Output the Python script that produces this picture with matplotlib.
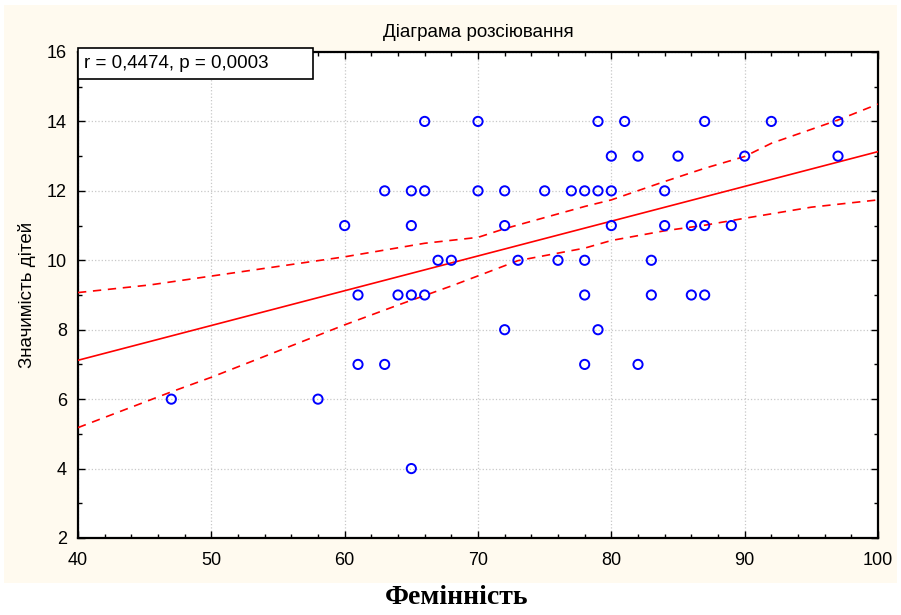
import matplotlib.pyplot as plt
from matplotlib.patches import Rectangle
from matplotlib.ticker import MultipleLocator
import numpy as np

# points (femininity score, significance of children)
fem = [65,
       47, 58,
       61, 63, 78, 82,
       72, 79,
       61, 64, 65, 66, 78, 83, 86, 87,
       67, 68, 73, 76, 78, 83,
       60, 65, 72, 80, 84, 86, 87, 89,
       63, 65, 66, 70, 72, 75, 77, 78, 79, 80, 84,
       80, 82, 85, 90, 97,
       66, 70, 79, 81, 87, 92, 97]
kids = [4,
        6, 6,
        7, 7, 7, 7,
        8, 8,
        9, 9, 9, 9, 9, 9, 9, 9,
        10, 10, 10, 10, 10, 10,
        11, 11, 11, 11, 11, 11, 11, 11,
        12, 12, 12, 12, 12, 12, 12, 12, 12, 12, 12,
        13, 13, 13, 13, 13,
        14, 14, 14, 14, 14, 14, 14]

# regression line and 95% band
fit_x = [40, 100]
fit_y = [7.12, 13.13]
up_x = [40, 45.4, 60, 66, 70, 72, 78, 80, 84, 87, 90, 92, 97, 100]
up_y = [9.07, 9.29, 10.10, 10.49, 10.66, 10.91, 11.55, 11.74, 12.27, 12.65, 12.99, 13.37, 14.04, 14.5]
lo_x = [40, 47, 50, 60, 64, 68, 70, 73, 78, 80, 84, 87, 90, 95, 100]
lo_y = [5.18, 6.21, 6.63, 8.14, 8.71, 9.26, 9.55, 9.99, 10.35, 10.57, 10.85, 11.01, 11.21, 11.53, 11.74]

stats_text = 'r = 0,4474, p = 0,0003'

plt.rcParams['font.family'] = ['Liberation Sans', 'DejaVu Sans']

fig = plt.figure(figsize=(9.01, 6.15), dpi=100)
fig.patch.set_facecolor('white')
# cream panel behind the plot
fig.patches.append(Rectangle((4 / 901, 1 - 583 / 615), 893 / 901, 578 / 615,
                             transform=fig.transFigure, facecolor='#FFFAEF',
                             edgecolor='none', zorder=-5))

ax = fig.add_axes([78 / 901, 1 - 538 / 615, 800 / 901, 486 / 615])
ax.set_zorder(2)
ax.set_facecolor('white')

ax.plot(fit_x, fit_y, color='red', lw=1.2, zorder=3)
ax.plot(up_x, up_y, color='red', lw=1.2, ls=(0, (5, 4)), zorder=3)
ax.plot(lo_x, lo_y, color='red', lw=1.2, ls=(0, (5, 4)), zorder=3)
ax.scatter(fem, kids, s=44, facecolors='none', edgecolors='blue', linewidths=1.4, zorder=4)

ax.set_xlim(40, 100)
ax.set_ylim(2, 16)
ax.xaxis.set_major_locator(MultipleLocator(10))
ax.xaxis.set_minor_locator(MultipleLocator(2))
ax.yaxis.set_major_locator(MultipleLocator(2))
ax.yaxis.set_minor_locator(MultipleLocator(1))
ax.tick_params(which='both', direction='in', top=True, right=True, labelsize=13)
ax.tick_params(axis='x', pad=10)
ax.tick_params(axis='y', pad=8)
ax.tick_params(which='major', length=5, width=1)
ax.tick_params(which='minor', length=3, width=1)
ax.grid(True, which='major', color='#c8c8c8', ls=':', lw=0.9)
for s in ax.spines.values():
    s.set_linewidth(1.6)

ax.set_title('Діаграма розсіювання', fontsize=13.5, pad=11)
ax.set_ylabel('Значимість дітей', fontsize=13.5, labelpad=8)

# statistics box in the top-left corner
ax.add_patch(Rectangle((0, 0.944), 0.294, 0.064, transform=ax.transAxes, facecolor='white',
                       edgecolor='black', lw=1.2, clip_on=False, zorder=6))
ax.text(0.0075, 0.976, stats_text, transform=ax.transAxes, fontsize=13.5, va='center',
        ha='left', zorder=7)

fig.text(457 / 901, 1 - 597 / 615, 'Фемінність', ha='center', va='center', fontsize=20,
         fontweight='bold', family=['Liberation Serif', 'DejaVu Serif'])

fig.savefig('out.png', dpi=100)
